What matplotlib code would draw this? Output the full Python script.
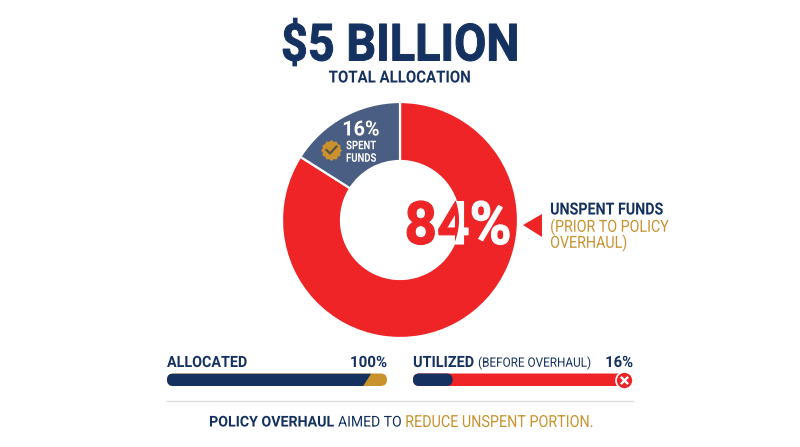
import numpy as np
import matplotlib
matplotlib.use("Agg")
import matplotlib.pyplot as plt
from matplotlib.patches import Circle, FancyBboxPatch, Polygon
from matplotlib.patheffects import AbstractPathEffect
from matplotlib.path import Path
from matplotlib.text import Text
from matplotlib.transforms import Affine2D, Bbox

NAVY = "#14315F"; RED = "#EE2427"; GOLD = "#C9922F"; SLATE = "#4A5D82"; RULE = "#DDDDDD"

shares = [84, 16]
share_labels = ["84%", "16%"]
allocated_pct = 100
allocated_navy_part = 91
utilized_pct = 16
utilized_drawn = 18

plt.rcParams["font.family"] = ["Roboto", "DejaVu Sans"]

W, H = 800, 447
fig = plt.figure(figsize=(W/100, H/100), dpi=100, facecolor="white")


class Squeeze(AbstractPathEffect):
    """Draw the glyph outlines narrower, about the text's alignment point."""
    def __init__(self, sx, ha, stroke=0.0):
        super().__init__()
        self.sx, self.ha, self.stroke = sx, ha, stroke

    def draw_path(self, renderer, gc, tpath, affine, rgbFace=None):
        bb = tpath.transformed(affine).get_extents()
        a = {"left": bb.x0, "center": (bb.x0+bb.x1)/2, "right": bb.x1}[self.ha]
        new = affine + Affine2D().translate(-a, 0).scale(self.sx, 1).translate(a, 0)
        gc.set_linewidth(self.stroke)
        renderer.draw_path(gc, tpath, new, rgbFace)


class NarrowText(Text):
    def __init__(self, *args, sx=1.0, stroke=0.0, **kw):
        super().__init__(*args, **kw)
        self._sx = sx
        self.set_path_effects([Squeeze(sx, kw.get("ha", "center"), stroke)])

    def get_window_extent(self, renderer=None, dpi=None):
        bb = super().get_window_extent(renderer, dpi)
        a = {"left": bb.x0, "center": (bb.x0+bb.x1)/2, "right": bb.x1}[self.get_ha()]
        return Bbox([[a+(bb.x0-a)*self._sx, bb.y0], [a+(bb.x1-a)*self._sx, bb.y1]])


# donut
cx, cy, R, r = 400, 220, 118, 59
pa = fig.add_axes([(cx-R-2)/W, 1-(cy+R+2)/H, (2*R+4)/W, (2*R+4)/H], zorder=1)
pa.pie(shares, colors=[RED, SLATE], startangle=90+shares[1]*3.6, radius=1, counterclock=True,
       wedgeprops=dict(width=1-r/R, edgecolor="white", linewidth=1.6))
pa.set_xlim(-(R+2)/R, (R+2)/R); pa.set_ylim(-(R+2)/R, (R+2)/R); pa.axis("off")

ov = fig.add_axes([0, 0, 1, 1], zorder=2)
ov.set_xlim(0, W); ov.set_ylim(H, 0); ov.axis("off"); ov.patch.set_alpha(0)


def T(x, y, s, size, color=NAVY, weight="bold", ha="center", sx=1.0, stroke=0.0, **kw):
    t = NarrowText(x, y, s, sx=sx, stroke=stroke, fontsize=size, color=color,
                   fontweight=weight, ha=ha, va="center", **kw)
    ov.add_artist(t)
    t.set_zorder(7)
    return t


T(400, 46.5, "$5 BILLION", 37, sx=0.91, stroke=0.7)
T(400, 78, "TOTAL ALLOCATION", 12, sx=0.9)

# two-tone 84%: white everywhere, then red clipped to the hole
T(458, 228, share_labels[0], 43, color="white", sx=0.95, stroke=0.8)
t1 = T(458, 228, share_labels[0], 43, color=RED, sx=0.95, stroke=0.8)
t1.set_zorder(8)
t1.set_clip_path(Circle((cx, cy), r, transform=ov.transData))

# spent label
T(361, 130, share_labels[1], 15, color="white", sx=0.95)
T(361, 152, "SPENT\nFUNDS", 8.6, color="white", sx=0.8, linespacing=0.95)
ang = np.linspace(0, 2*np.pi, 25)
rad = np.where(np.arange(25) % 2 == 0, 1.0, 0.86)
badge = Path(np.c_[rad*np.cos(ang), rad*np.sin(ang)], closed=True)
ov.scatter([331], [150], marker=badge, s=225, color=GOLD, zorder=3, linewidths=0)
ov.plot([326.5, 330, 336.5], [150, 153.5, 146.5], color="#5C5340", lw=1.6, zorder=4)

# arrow + note
ov.add_patch(Polygon([[523, 225], [542, 214], [542, 237]], color=RED, lw=0))
T(550, 210, "UNSPENT FUNDS", 12, ha="left", sx=0.855)
T(550, 227, "(PRIOR TO POLICY", 12, color=GOLD, weight="normal", ha="left", sx=0.855)
T(550, 243, "OVERHAUL)", 12, color=GOLD, weight="normal", ha="left", sx=0.855)

# progress bars
x1, bw, by, bh = 167, 220, 373.5, 12.5
bg1 = FancyBboxPatch((x1, by), bw, bh, boxstyle=f"round,pad=0,rounding_size={bh/2}", fc=GOLD, ec="none", zorder=3)
ov.add_patch(bg1)
xn = x1 + bw*allocated_navy_part/allocated_pct
nav = Polygon([[x1, by], [xn+4, by], [xn-4, by+bh], [x1, by+bh]], fc=NAVY, ec="none", zorder=4)
ov.add_patch(nav)
nav.set_clip_path(bg1)
T(167, 362.5, "ALLOCATED", 11.2, ha="left", sx=0.92)
T(387, 362.5, f"{allocated_pct}%", 11.2, ha="right", sx=0.97)

x2 = 413
bg2 = FancyBboxPatch((x2, by), bw, bh, boxstyle=f"round,pad=0,rounding_size={bh/2}", fc=RED, ec="none", zorder=3)
ov.add_patch(bg2)
un = FancyBboxPatch((x2, by), bw*utilized_drawn/100, bh, boxstyle=f"round,pad=0,rounding_size={bh/2}", fc=NAVY, ec="none", zorder=4)
ov.add_patch(un)
ov.scatter([x2+bw-8.8], [by+bh/2], s=150, color=RED, edgecolors="white", linewidths=1.2, zorder=5)
ov.scatter([x2+bw-8.8], [by+bh/2], s=28, marker="x", color="white", linewidths=1.7, zorder=6)
T(413, 362.5, "UTILIZED", 11.2, ha="left", sx=0.93)
T(478, 363, "(BEFORE OVERHAUL)", 9.3, weight="normal", ha="left", sx=0.91)
T(633, 362.5, f"{utilized_pct}%", 11.2, ha="right", sx=0.95)

ov.plot([167, 633], [401, 401], color=RULE, lw=1)

# footer
T(209, 422.5, "POLICY OVERHAUL", 10.7, ha="left", sx=0.955)
T(338, 422.5, "AIMED TO", 10.7, weight="normal", ha="left", sx=0.94)
T(405, 422.5, "REDUCE UNSPENT PORTION.", 12, color=GOLD, weight="normal", ha="left", sx=0.86)

fig.savefig("out.png", dpi=100, facecolor="white")
